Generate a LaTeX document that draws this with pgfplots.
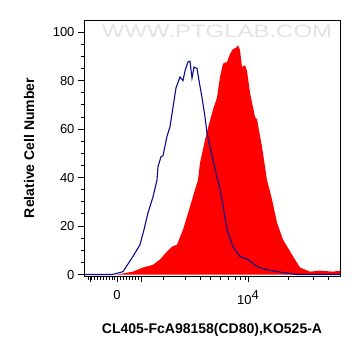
\documentclass[border=0pt]{standalone}
\usepackage{fontspec}
\setmainfont{Liberation Sans}
\usepackage{pgfplots}
\pgfplotsset{compat=1.18}
\definecolor{navyline}{RGB}{10,10,140}
\begin{document}
\begin{tikzpicture}[x=1pt,y=1pt]
\begin{axis}[
  scale only axis,
  width=256pt, height=256pt,
  xmin=84, xmax=340, ymin=-0.6, ymax=105,
  axis line style={line width=0.9pt},
  tick align=outside,
  xtick pos=bottom, ytick pos=left,
  /pgf/number format/assume math mode=true,
  xtick={117,248}, xticklabels={0,10\raisebox{0.75ex}{4}},
  xticklabel style={yshift=-5pt},
  minor xtick={88,91,94,97,100,103,106,109,112,114,120,123,126,129,132,135,138,163,185,200,210,220,228,235,240,245,288,313,328},
  extra x ticks={90,141}, extra x tick labels={},
  ytick={0,20,...,100},
  minor y tick num=3,
  major tick length=6pt, minor tick length=3.5pt,
  every tick/.style={black, line width=0.9pt},
  tick label style={font=\fontsize{13}{15}\selectfont},
  xlabel={CL405-FcA98158(CD80),KO525-A},
  ylabel={Relative Cell Number},
  every axis x label/.style={at={(axis description cs:0.5,-0.2227)}, anchor=base, font=\fontsize{14}{16}\selectfont\bfseries},
  every axis y label/.style={at={(axis description cs:-0.195,0.5)}, rotate=90, anchor=base, font=\fontsize{14}{16}\selectfont\bfseries},
  clip=true,
]
\node[font=\fontsize{18}{18}\selectfont, text=gray!22, xscale=1.33] at (axis cs:217,100.4) {WWW.PTGLAB.COM};
\addplot[fill=red, draw=none] coordinates {
(84,0) (117,0) (125,0.6) (133,1.2) (143,2.9) (153,4) (160,6.2) (167,9.5) (172,11.5) (177,12.3)
(183,18.5) (190,28) (195,35) (198,39) (200,46) (205,55.5) (208,60.5) (213,68) (217,73)
(220,81.5) (223,87) (227,87.7) (230,91) (233,93) (236,93.5) (238,94.6) (240,92.6) (242,85.6)
(245,86.4) (247,84) (250,75) (255,65) (257,64) (262,52.7) (267,39) (272,31) (277,21.4)
(283,14.4) (292,8.2) (300,2.9) (310,1.2) (320,1.6) (333,1.2) (340,1.6)
} \closedcycle;
\addplot[navyline, line width=1.1pt] coordinates {
(84,0) (110,0) (114.3,0.2) (123,1.2) (133,7.5) (140,12.3) (144,18.5) (148,25.5) (153,32) (157,39)
(158,44.5) (161,48.6) (163,49) (167,57) (170,61) (173,69) (176,77) (180,81.5) (183,80)
(185,84) (188,87.7) (190,88) (192,81) (194,85.6) (197,85) (199,80) (202,73) (205,65)
(207,58.4) (213,47.3) (217,40) (218,39) (222,31) (227,18.5) (233,11.5) (240,7.4) (248,6.2)
(257,3.3) (267,2) (283,0.8) (297,0) (340,0)
};
\end{axis}
\path (-84pt,-80pt) rectangle (277pt,276pt);
\end{tikzpicture}
\end{document}
